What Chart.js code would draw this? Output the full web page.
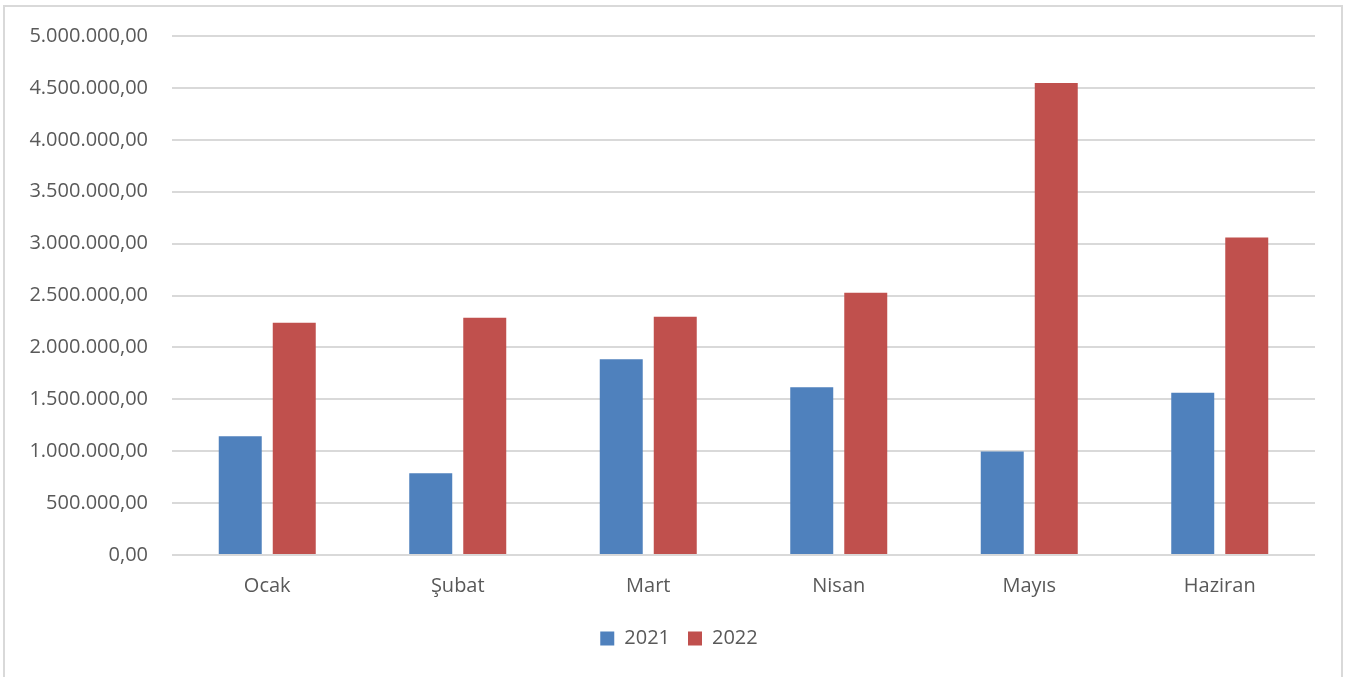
<!DOCTYPE html>
<html>
<head>
<meta charset="utf-8">
<script src="https://cdn.jsdelivr.net/npm/chart.js@4"></script>
<style>
  html, body { margin: 0; padding: 0; background: #fff; }
  #wrap { position: relative; width: 1349px; height: 677px; overflow: hidden; }
  #frame { position: absolute; left: 3px; top: 5px; width: 1340px; height: 700px; border: 2px solid #d9d9d9; box-sizing: border-box; }
  #c { position: absolute; left: 0; top: 0; }
</style>
</head>
<body>
<div id="wrap">
  <div id="frame"></div>
  <canvas id="c" width="1349" height="677"></canvas>
</div>
<script>
const categories = ['Ocak', 'Şubat', 'Mart', 'Nisan', 'Mayıs', 'Haziran'];
const series2021 = [1143000, 787000, 1885000, 1615000, 996000, 1564000];
const series2022 = [2238000, 2286000, 2295000, 2526000, 4548000, 3059000];
const yTickValues = [0, 500000, 1000000, 1500000, 2000000, 2500000, 3000000, 3500000, 4000000, 4500000, 5000000];
const yTickLabels = ['0,00', '500.000,00', '1.000.000,00', '1.500.000,00', '2.000.000,00', '2.500.000,00', '3.000.000,00', '3.500.000,00', '4.000.000,00', '4.500.000,00', '5.000.000,00'];

const FONT = "'Open Sans', sans-serif";
const TXT = '#595959';
const FS = 20;

new Chart(document.getElementById('c'), {
  type: 'bar',
  data: {
    labels: categories,
    datasets: [
      { label: '2021', data: series2021, backgroundColor: '#4f81bd', borderWidth: 0 },
      { label: '2022', data: series2022, backgroundColor: '#c0504d', borderWidth: 0 }
    ]
  },
  options: {
    responsive: false,
    animation: false,
    events: [],
    categoryPercentage: 0.567,
    barPercentage: 0.796,
    layout: { padding: { left: 9, right: 0, top: 35, bottom: 18.5 } },
    plugins: {
      tooltip: { enabled: false },
      legend: {
        position: 'bottom',
        labels: {
          boxWidth: 14, boxHeight: 14, padding: 18,
          color: TXT,
          font: { family: FONT, size: FS }
        }
      }
    },
    scales: {
      x: {
        grid: { display: false, drawTicks: false },
        border: { display: false },
        ticks: { color: TXT, font: { family: FONT, size: FS }, padding: 19 },
        afterFit: (s) => { s.height = 55.5; }
      },
      y: {
        min: 0, max: 5000000,
        grid: { color: '#d9d9d9', lineWidth: 2, drawTicks: false },
        border: { display: false },
        afterBuildTicks: (s) => { s.ticks = yTickValues.map(v => ({ value: v })); },
        ticks: {
          color: TXT, font: { family: FONT, size: FS }, padding: 24,
          callback: (v) => { const i = yTickValues.indexOf(v); return i >= 0 ? yTickLabels[i] : ''; }
        },
        afterFit: (s) => { s.width = 163; }
      },
      yPad: {
        type: 'linear', axis: 'y', position: 'right',
        grid: { display: false, drawTicks: false },
        border: { display: false },
        ticks: { display: false },
        afterFit: (s) => { s.width = 34; }
      }
    }
  }
});
</script>
</body>
</html>
